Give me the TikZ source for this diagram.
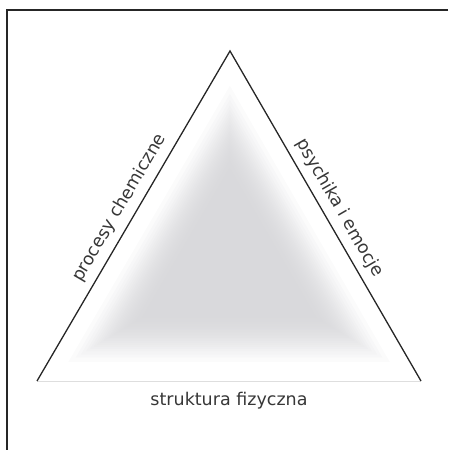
\documentclass[tikz,border=0pt]{standalone}
\usepackage{fontspec}
\setmainfont{DejaVu Sans}
\usetikzlibrary{calc}
\definecolor{coreGray}{RGB}{215,215,218}
\definecolor{textGray}{RGB}{55,55,55}

\begin{document}
\begin{tikzpicture}[
  x=1pt, y=1pt,
  sidetext/.style={font=\fontsize{17.5}{21}\selectfont, text=textGray, inner sep=7pt},
  edge/.style={draw=black!85, line width=1.3pt, line join=miter},
  glow/.style={fill=coreGray, fill opacity=0.1, draw=none}
]
  \useasboundingbox (0,0) rectangle (448,450);

  % frame corner
  \coordinate (frameR) at (448,440);
  \coordinate (corner) at (7,440);
  \coordinate (frameB) at (7,0);
  \draw[line width=1.2pt, black!85] (frameR) -- (corner) -- (frameB);

  % triangle corners
  \coordinate (top)   at (230,399);
  \coordinate (left)  at (37,69);
  \coordinate (right) at (421,69);
  \coordinate (mid)   at (229.3,185);

  % soft grey inside, denser towards the middle
  \foreach \i in {1,...,30}{
    \pgfmathsetmacro\s{0.93-0.5*(\i/30)^0.5}
    \fill[glow] ($(mid)!\s!(top)$) -- ($(mid)!\s!(left)$) -- ($(mid)!\s!(right)$) -- cycle;
  }

  \draw[draw=black!13, line width=0.8pt] (left) -- node[sidetext, below, inner sep=11pt] (base) {struktura fizyczna} (right);
  \draw[edge] (left) -- node[sidetext, above, sloped] (chem) {procesy chemiczne} (top)
              -- node[sidetext, above, sloped] (psych) {psychika i emocje} (right);
\end{tikzpicture}
\end{document}
